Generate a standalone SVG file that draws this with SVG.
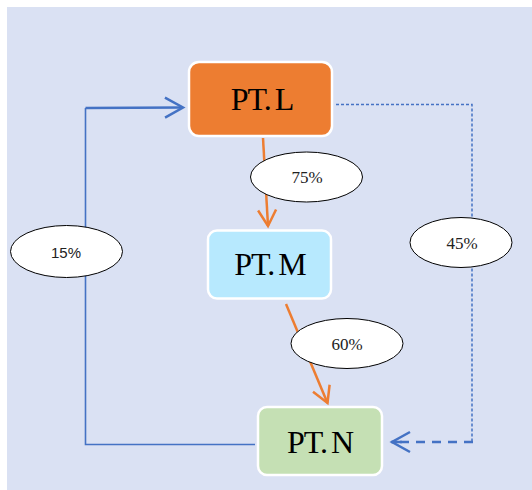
<svg xmlns="http://www.w3.org/2000/svg" width="532" height="490" viewBox="0 0 532 490">
  <style>
    .box { stroke: #ffffff; stroke-width: 2.5; }
    .name { font-family: "Liberation Serif", "DejaVu Serif", serif; font-size: 32px; letter-spacing: -1px; word-spacing: -3px; fill: #000000; text-anchor: middle; }
    .tag { fill: #ffffff; stroke: #000000; stroke-width: 1; }
    .pct { font-family: "Liberation Serif", "DejaVu Serif", serif; font-size: 17px; fill: #222222; text-anchor: middle; }
    .pct-sans { font-family: "Liberation Sans", Arial, sans-serif; font-size: 15px; fill: #222222; text-anchor: middle; }
    .blue { fill: none; stroke: #4472c4; }
    .orange { fill: none; stroke: #ed7d31; stroke-width: 2.5; }
  </style>
  <defs>
    <marker id="headBlue" markerUnits="userSpaceOnUse" viewBox="-20 -12 24 24" markerWidth="24" markerHeight="24" refX="0" refY="0" orient="auto">
      <path d="M-18,-10 L0,0 L-18,10" fill="none" stroke="#4472c4" stroke-width="2.5" stroke-linejoin="miter"/>
    </marker>
    <marker id="headOrange" markerUnits="userSpaceOnUse" viewBox="-20 -12 24 24" markerWidth="24" markerHeight="24" refX="0" refY="0" orient="auto">
      <path d="M-16,-9 L0,0 L-16,9" fill="none" stroke="#ed7d31" stroke-width="2.5"/>
    </marker>
  </defs>

  <!-- backdrop -->
  <rect x="7" y="7" width="525" height="483" fill="#dae1f3"/>

  <g id="connectors">
    <!-- N back to L, solid blue loop on the left -->
    <path class="blue" d="M255,444.5 L85.5,444.5 L85.5,108" stroke-width="1.6"/>
    <path class="blue" d="M85.5,108 L183,107.5" stroke-width="2.5" marker-end="url(#headBlue)"/>
    <!-- L to N, dotted then dashed on the right -->
    <path class="blue" d="M336,104.5 L472,104.5 L472,442" stroke-width="1.5" stroke-dasharray="3,2"/>
    <path class="blue" d="M473,442 L392,442" stroke-width="2.5" stroke-dasharray="9,7" marker-end="url(#headBlue)"/>
    <path class="blue" d="M402,442 L391,442" stroke-width="2.5"/>
    <!-- L to M -->
    <path class="orange" d="M263,138 L268,226" marker-end="url(#headOrange)"/>
    <!-- M to N -->
    <path class="orange" d="M286,304 L327.5,403" marker-end="url(#headOrange)"/>
  </g>

  <g id="node-L">
    <rect class="box" x="189" y="62" width="143" height="74" rx="10" fill="#ed7d31"/>
    <text class="name" x="262" y="110">PT. L</text>
  </g>

  <g id="node-M">
    <rect class="box" x="208" y="230.5" width="123" height="68" rx="9" fill="#b7e9fe"/>
    <text class="name" x="270" y="275">PT. M</text>
  </g>

  <g id="node-N">
    <rect class="box" x="258" y="407" width="124" height="68" rx="9" fill="#c5e0b4"/>
    <text class="name" x="320" y="453">PT. N</text>
  </g>

  <g id="label-75">
    <ellipse class="tag" cx="306.5" cy="177" rx="56" ry="25"/>
    <text class="pct" x="307" y="183">75%</text>
  </g>

  <g id="label-60">
    <ellipse class="tag" cx="347" cy="343.5" rx="56" ry="25"/>
    <text class="pct" x="347" y="350">60%</text>
  </g>

  <g id="label-45">
    <ellipse class="tag" cx="461" cy="242.5" rx="51" ry="25"/>
    <text class="pct" x="462" y="249">45%</text>
  </g>

  <g id="label-15">
    <ellipse class="tag" cx="66.5" cy="251.5" rx="56" ry="26"/>
    <text class="pct-sans" x="66" y="258">15%</text>
  </g>
</svg>
